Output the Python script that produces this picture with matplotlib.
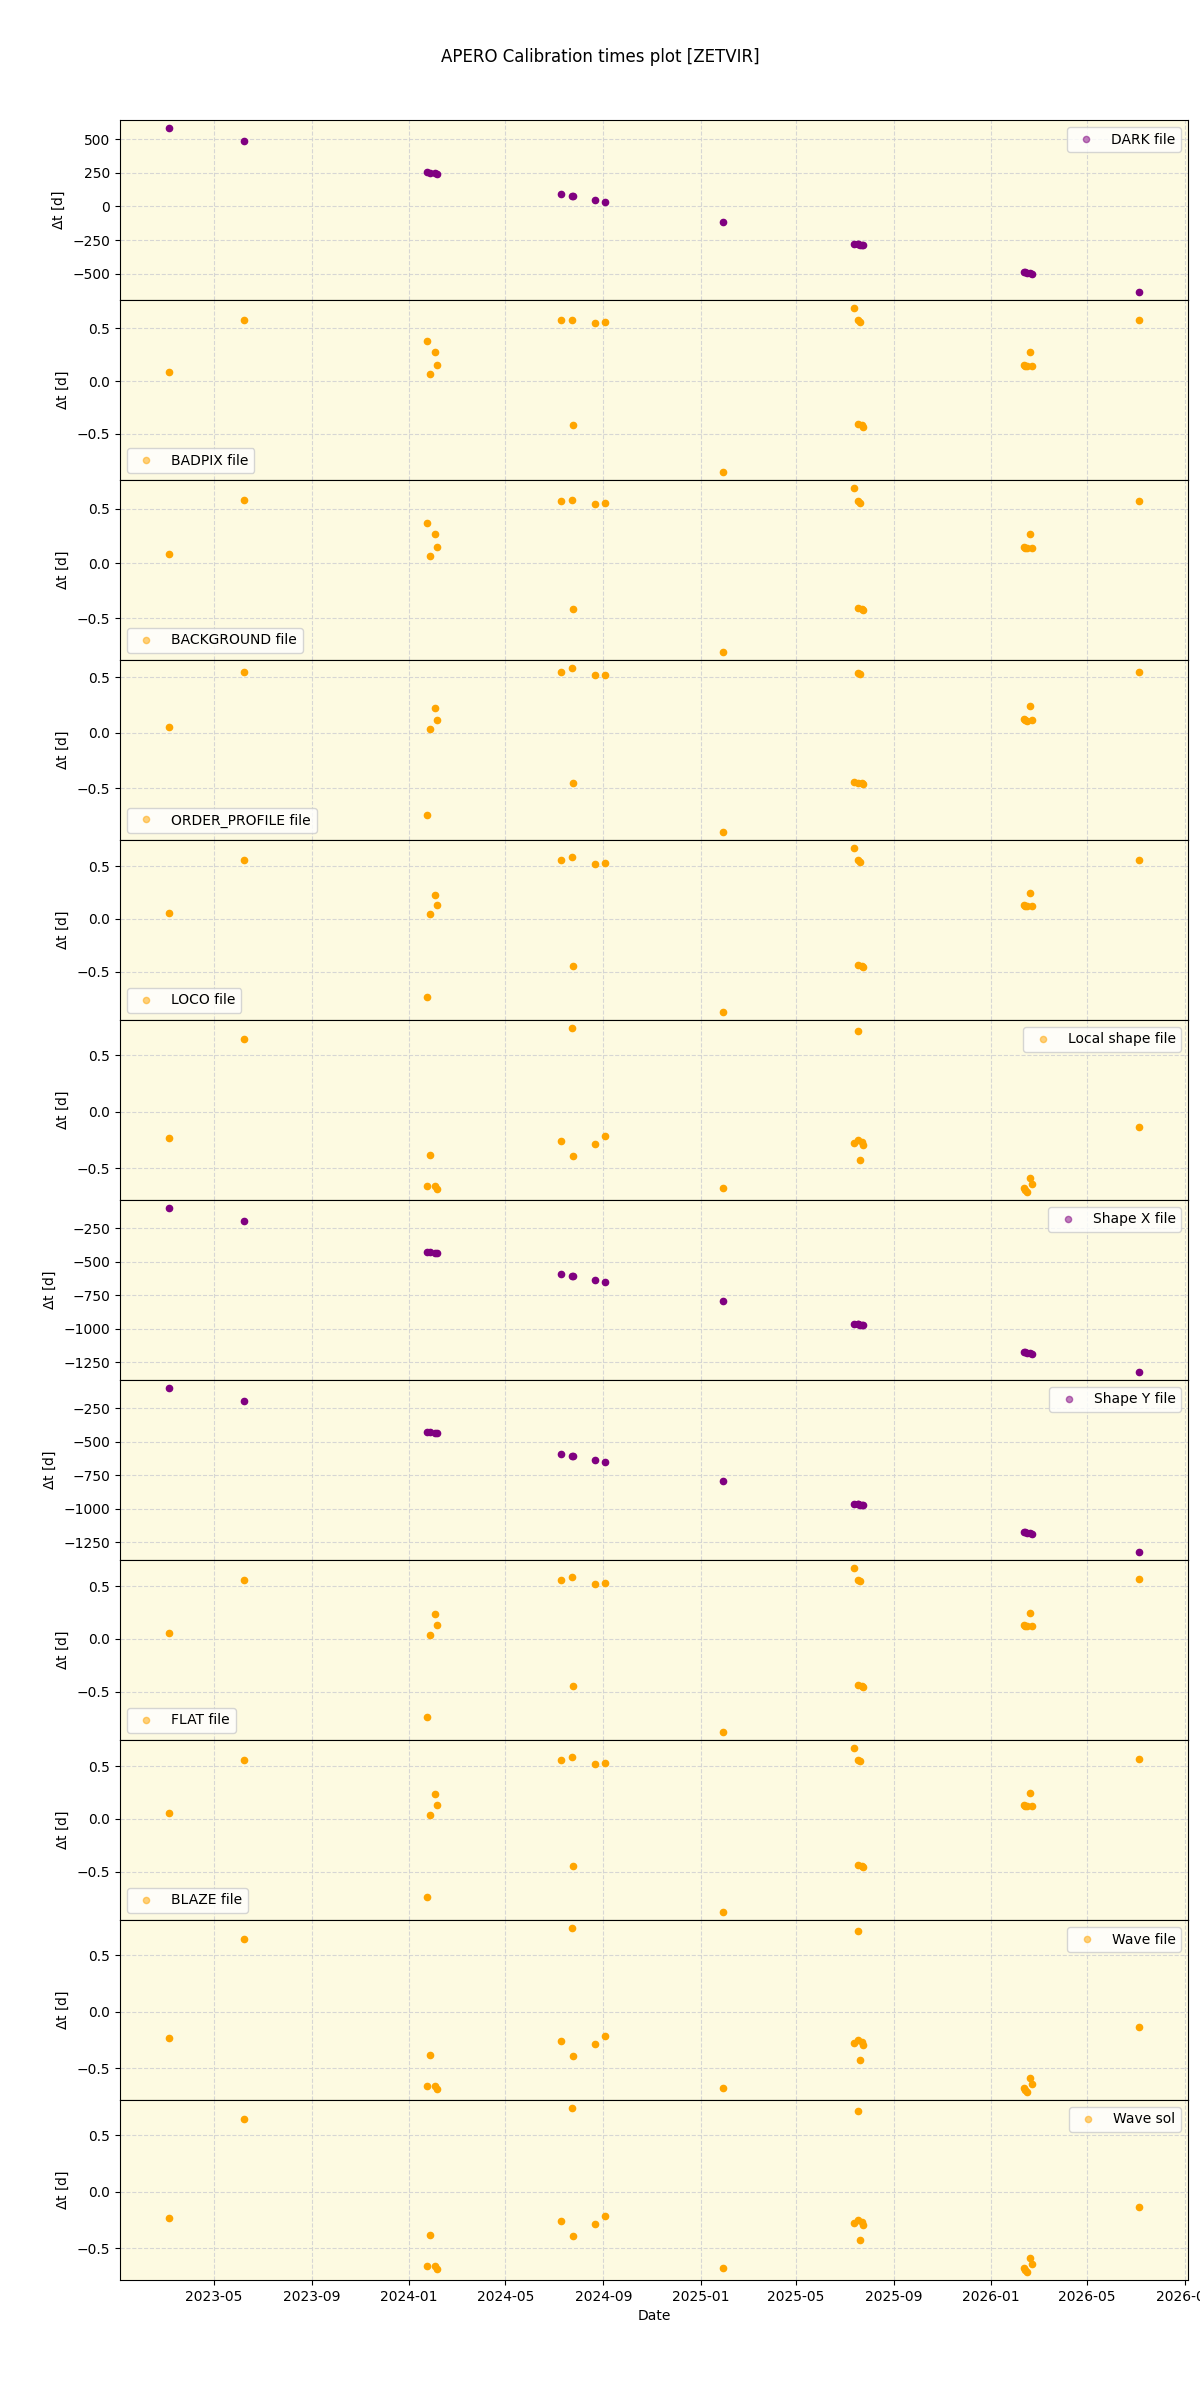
import numpy as np
import matplotlib
matplotlib.use('Agg')
import matplotlib.pyplot as plt
import matplotlib.dates as mdates

# nights on which the calibrations were checked
obs_dates = np.array([
    '2023-03-05', '2023-06-08',
    '2024-01-23', '2024-01-27', '2024-02-02', '2024-02-05',
    '2024-07-10', '2024-07-23', '2024-07-25', '2024-08-22', '2024-09-03',
    '2025-01-29',
    '2025-07-13', '2025-07-17', '2025-07-18', '2025-07-20', '2025-07-23', '2025-07-24',
    '2026-02-11', '2026-02-12', '2026-02-15', '2026-02-18', '2026-02-21',
    '2026-07-06',
], dtype='datetime64[D]')

# delta t [days] per calibration type, same order as obs_dates
dark_dt = [583, 487, 256, 252, 246, 243, 90, 77, 75, 47, 35, -116,
           -277, -281, -282, -284, -287, -288, -490, -491, -494, -497, -500, -636]
badpix_dt = [0.085, 0.581, 0.377, 0.066, 0.274, 0.151, 0.575, 0.581, -0.415, 0.547, 0.557, -0.858,
             0.689, -0.407, 0.58, 0.555, -0.42, -0.43, 0.15, 0.145, 0.14, 0.274, 0.142, 0.575]
background_dt = [0.085, 0.58, 0.375, 0.068, 0.272, 0.15, 0.572, 0.58, -0.417, 0.545, 0.555, -0.81,
                 0.69, -0.41, 0.575, 0.555, -0.42, -0.425, 0.15, 0.145, 0.14, 0.272, 0.14, 0.573]
order_profile_dt = [0.054, 0.548, -0.74, 0.03, 0.224, 0.117, 0.548, 0.58, -0.449, 0.52, 0.52, -0.889,
                    -0.44, -0.45, 0.54, 0.525, -0.45, -0.46, 0.12, 0.115, 0.11, 0.24, 0.115, 0.548]
loco_dt = [0.06, 0.56, -0.74, 0.045, 0.23, 0.13, 0.555, 0.59, -0.45, 0.52, 0.53, -0.88,
           0.67, -0.44, 0.56, 0.54, -0.45, -0.455, 0.13, 0.12, 0.12, 0.245, 0.12, 0.56]
local_shape_dt = [-0.229, 0.643, -0.658, -0.379, -0.658, -0.687, -0.259, 0.739, -0.394, -0.288, -0.211, -0.675,
                  -0.273, -0.253, 0.718, -0.423, -0.264, -0.294, -0.678, -0.693, -0.708, -0.587, -0.643, -0.132]
shape_x_dt = [-101, -196, -425, -429, -435, -438, -593, -606, -608, -636, -648, -796,
              -961, -965, -966, -968, -971, -972, -1174, -1175, -1178, -1181, -1184, -1320]
shape_y_dt = [-101, -196, -425, -429, -435, -438, -593, -606, -608, -636, -648, -796,
              -961, -965, -966, -968, -971, -972, -1174, -1175, -1178, -1181, -1184, -1320]
flat_dt = [0.06, 0.56, -0.74, 0.04, 0.24, 0.13, 0.56, 0.59, -0.45, 0.52, 0.53, -0.88,
           0.67, -0.44, 0.56, 0.55, -0.45, -0.455, 0.13, 0.12, 0.12, 0.245, 0.12, 0.57]
blaze_dt = [0.06, 0.56, -0.74, 0.04, 0.24, 0.13, 0.56, 0.59, -0.45, 0.52, 0.53, -0.88,
            0.67, -0.44, 0.56, 0.55, -0.45, -0.455, 0.13, 0.12, 0.12, 0.245, 0.12, 0.57]
wave_file_dt = local_shape_dt
wave_sol_dt = local_shape_dt

panels = [
    ('DARK file', dark_dt, 'purple', 'upper right'),
    ('BADPIX file', badpix_dt, 'orange', 'lower left'),
    ('BACKGROUND file', background_dt, 'orange', 'lower left'),
    ('ORDER_PROFILE file', order_profile_dt, 'orange', 'lower left'),
    ('LOCO file', loco_dt, 'orange', 'lower left'),
    ('Local shape file', local_shape_dt, 'orange', 'upper right'),
    ('Shape X file', shape_x_dt, 'purple', 'upper right'),
    ('Shape Y file', shape_y_dt, 'purple', 'upper right'),
    ('FLAT file', flat_dt, 'orange', 'lower left'),
    ('BLAZE file', blaze_dt, 'orange', 'lower left'),
    ('Wave file', wave_file_dt, 'orange', 'upper right'),
    ('Wave sol', wave_sol_dt, 'orange', 'upper right'),
]

fig, axes = plt.subplots(len(panels), 1, figsize=(12, 24), sharex=True)
fig.subplots_adjust(left=0.1, right=0.99, top=0.95, bottom=0.05, hspace=0)

for ax, (name, vals, col, loc) in zip(axes, panels):
    ax.set_facecolor('#fdfae1')
    ax.plot(obs_dates, vals, 'o', ms=4.5, color=col, label=name)
    ax.grid(True, linestyle='--', color='lightgray', alpha=0.9)
    ax.set_ylabel(r'$\Delta$t [d]')
    leg = ax.legend(loc=loc)
    for h in leg.legend_handles:
        h.set_alpha(0.5)

axes[-1].xaxis.set_major_locator(mdates.MonthLocator(bymonth=[1, 5, 9]))
axes[-1].xaxis.set_major_formatter(mdates.DateFormatter('%Y-%m'))
axes[-1].set_xlabel('Date')

fig.suptitle('APERO Calibration times plot [ZETVIR]')
fig.savefig('out.png', dpi=100)
